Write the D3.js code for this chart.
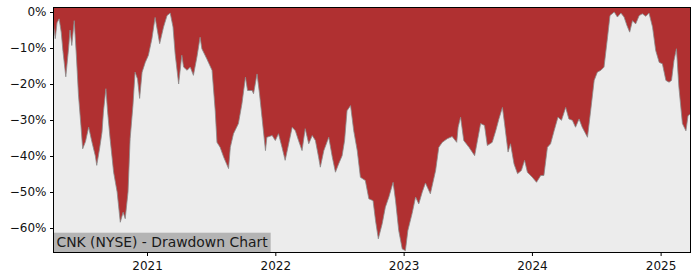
<!DOCTYPE html>
<html>
<head>
<meta charset="utf-8">
<script src="https://cdn.jsdelivr.net/npm/d3@7"></script>
<style>
  html, body { margin: 0; padding: 0; background: #fff; }
  svg { display: block; font-family: "DejaVu Sans", sans-serif; }
</style>
</head>
<body>
<div id="chart"></div>
<script>
// CNK drawdown chart: percent below the running high
const dates = [
  "2020-04-10","2020-04-15","2020-04-20","2020-04-26","2020-05-02","2020-05-07","2020-05-15","2020-05-23","2020-05-27","2020-06-01",
  "2020-06-08","2020-06-14","2020-06-20","2020-06-27","2020-07-02","2020-07-10","2020-07-19","2020-07-28","2020-08-07","2020-08-11",
  "2020-08-19","2020-08-26","2020-08-30","2020-09-06","2020-09-11","2020-09-18","2020-09-28","2020-10-08","2020-10-17","2020-10-25",
  "2020-10-31","2020-11-08","2020-11-14","2020-11-22","2020-11-28","2020-12-05","2020-12-11","2020-12-18","2020-12-27","2021-01-05",
  "2021-01-15","2021-01-24","2021-02-06","2021-02-17","2021-02-27","2021-03-08","2021-03-16","2021-03-22","2021-04-01","2021-04-10",
  "2021-04-15","2021-04-25","2021-05-04","2021-05-13","2021-05-23","2021-06-01","2021-06-06","2021-06-20","2021-07-05","2021-07-14",
  "2021-07-19","2021-07-28","2021-08-07","2021-08-21","2021-08-26","2021-09-04","2021-09-18","2021-09-28","2021-10-08","2021-10-14",
  "2021-10-27","2021-10-31","2021-11-10","2021-11-17","2021-11-24","2021-12-04","2021-12-08","2021-12-23","2022-01-01","2022-01-10",
  "2022-01-20","2022-01-29","2022-02-08","2022-02-18","2022-02-27","2022-03-08","2022-03-18","2022-03-27","2022-04-06","2022-04-16",
  "2022-04-25","2022-05-04","2022-05-09","2022-05-19","2022-06-02","2022-06-12","2022-06-21","2022-06-30","2022-07-10","2022-07-17",
  "2022-07-24","2022-08-03","2022-08-12","2022-08-22","2022-08-31","2022-09-14","2022-09-24","2022-10-06","2022-10-13","2022-10-21",
  "2022-11-01","2022-11-10","2022-11-20","2022-12-02","2022-12-09","2022-12-18","2022-12-28","2023-01-06","2023-01-13","2023-01-25",
  "2023-02-04","2023-02-13","2023-02-23","2023-03-04","2023-03-18","2023-04-02","2023-04-11","2023-04-21","2023-05-05","2023-05-19",
  "2023-06-01","2023-06-05","2023-06-12","2023-06-21","2023-07-06","2023-07-22","2023-07-30","2023-08-08","2023-08-19","2023-08-27",
  "2023-09-10","2023-09-20","2023-09-29","2023-10-09","2023-10-15","2023-10-25","2023-11-01","2023-11-11","2023-11-21","2023-12-02",
  "2023-12-11","2023-12-19","2024-01-02","2024-01-14","2024-01-26","2024-02-04","2024-02-14","2024-02-23","2024-03-04","2024-03-15",
  "2024-03-25","2024-04-06","2024-04-15","2024-04-25","2024-05-04","2024-05-14","2024-05-23","2024-06-07","2024-06-16","2024-06-26",
  "2024-07-05","2024-07-15","2024-07-24","2024-08-03","2024-08-10","2024-08-22","2024-08-31","2024-09-10","2024-09-19","2024-09-27",
  "2024-10-05","2024-10-13","2024-10-22","2024-11-01","2024-11-10","2024-11-20","2024-11-29","2024-12-09","2024-12-18","2024-12-28",
  "2025-01-06","2025-01-16","2025-01-25","2025-02-01","2025-02-08","2025-02-15","2025-02-22","2025-03-04","2025-03-14","2025-03-20",
  "2025-03-27"
];
const drawdown = [
  -3.5,-7.4,-3.0,-1.9,-5.6,-11.0,-18.0,-10.0,-5.0,-9.3,
  -2.4,-12.0,-23.0,-31.5,-38.0,-36.0,-32.0,-36.0,-40.0,-42.6,
  -38.0,-33.4,-27.8,-21.3,-27.8,-35.2,-44.5,-50.0,-58.4,-55.6,
  -57.4,-50.0,-35.2,-26.0,-16.7,-18.6,-24.0,-16.7,-14.0,-12.0,
  -7.4,-1.5,-8.8,-4.2,-1.0,-0.3,-4.2,-11.6,-20.0,-12.0,
  -15.3,-16.2,-15.3,-17.6,-12.5,-7.0,-10.2,-13.0,-16.2,-27.4,
  -36.2,-37.6,-40.3,-43.5,-37.6,-33.8,-31.0,-25.5,-18.1,-21.8,
  -21.8,-22.7,-17.2,-22.7,-29.2,-38.5,-34.8,-34.3,-35.7,-33.8,
  -37.6,-41.2,-36.6,-32.0,-33.0,-35.7,-38.5,-32.4,-36.6,-34.3,
  -35.7,-40.3,-43.1,-38.5,-34.8,-40.3,-44.5,-42.2,-39.9,-35.7,
  -27.4,-26.0,-33.0,-38.5,-45.9,-46.8,-51.9,-52.4,-57.9,-63.0,
  -58.8,-54.2,-51.4,-47.3,-52.4,-60.7,-65.8,-66.3,-60.7,-56.0,
  -51.4,-53.3,-50.0,-47.5,-50.5,-44.0,-37.6,-36.2,-35.2,-34.6,
  -36.2,-32.0,-29.2,-35.7,-37.6,-39.9,-35.7,-31.0,-31.5,-37.1,
  -36.2,-33.0,-29.7,-26.5,-31.0,-38.9,-36.6,-42.2,-44.9,-44.0,
  -41.2,-44.5,-45.9,-47.3,-45.4,-45.4,-37.6,-36.6,-33.0,-29.2,
  -30.1,-26.5,-29.7,-30.1,-32.0,-29.7,-32.0,-34.8,-27.4,-19.0,
  -16.7,-16.2,-15.3,-7.0,-1.0,0.0,-1.4,-0.3,-1.4,-3.7,
  -5.6,-2.4,-3.3,-1.0,-0.5,-1.2,-0.3,-4.2,-10.7,-14.0,
  -14.4,-19.0,-19.5,-19.0,-13.5,-10.2,-20.9,-31.0,-33.0,-28.8,
  -28.3
];
const yTicks = [0, -10, -20, -30, -40, -50, -60];
const xTickYears = ["2021", "2022", "2023", "2024", "2025"];
const title = "CNK (NYSE) - Drawdown Chart";

const W = 700, H = 280, m = { l: 53.5, r: 9.5, t: 7.5, b: 27.5 };
const parse = d3.timeParse("%Y-%m-%d");
const data = dates.map((d, i) => ({ date: parse(d), val: drawdown[i] }));

const x = d3.scaleTime().domain(d3.extent(data, d => d.date)).range([m.l, W - m.r]);
const y = d3.scaleLinear().domain([-66.8, 1.25]).range([H - m.b, m.t]);

const svg = d3.select("#chart").append("svg").attr("width", W).attr("height", H);

// Hintergrund rot = Abstand zum Hoch, grau = Rest unter der Kurve
svg.append("rect").attr("x", m.l).attr("y", m.t).attr("width", W - m.r - m.l).attr("height", H - m.b - m.t).attr("fill", "#b03031");
svg.append("path").datum(data)
  .attr("d", d3.area().x(d => x(d.date)).y0(H - m.b).y1(d => y(d.val)))
  .attr("fill", "#ececec");
svg.append("path").datum(data)
  .attr("d", d3.line().x(d => x(d.date)).y(d => y(d.val)))
  .attr("fill", "none").attr("stroke", "#8a8a8a").attr("stroke-width", 0.8);

// Titelkasten unten links
const g = svg.append("g");
const tx = g.append("text").attr("x", m.l + 3).attr("y", H - m.b - 5.5)
  .attr("font-size", 13.9).attr("fill", "#1a1a1a").text(title);
const bb = tx.node().getBBox();
g.insert("rect", "text").attr("x", m.l).attr("y", H - m.b - 19.8)
  .attr("width", bb.width + 5.5).attr("height", 19.8).attr("fill", "#b4b4b4");

// Achsen
const fmt = v => (v < 0 ? "\u2212" + Math.abs(v) : v) + "%";
svg.append("g").attr("transform", `translate(${m.l},0)`)
  .call(d3.axisLeft(y).tickValues(yTicks).tickFormat(fmt).tickSizeOuter(0).tickSize(3.5).tickPadding(3.5))
  .call(a => a.select(".domain").remove())
  .call(a => a.selectAll("text").attr("font-size", 12).attr("fill", "#111").attr("font-family", "DejaVu Sans"));
svg.append("g").attr("transform", `translate(0,${H - m.b})`)
  .call(d3.axisBottom(x).tickValues(xTickYears.map(s => parse(s + "-01-01"))).tickFormat(d3.timeFormat("%Y")).tickSizeOuter(0).tickSize(3.5).tickPadding(5))
  .call(a => a.select(".domain").remove())
  .call(a => a.selectAll("text").attr("font-size", 12).attr("fill", "#111").attr("font-family", "DejaVu Sans"));

svg.append("rect").attr("x", m.l).attr("y", m.t).attr("width", W - m.r - m.l).attr("height", H - m.b - m.t)
  .attr("fill", "none").attr("stroke", "#000").attr("stroke-width", 1);
</script>
</body>
</html>
